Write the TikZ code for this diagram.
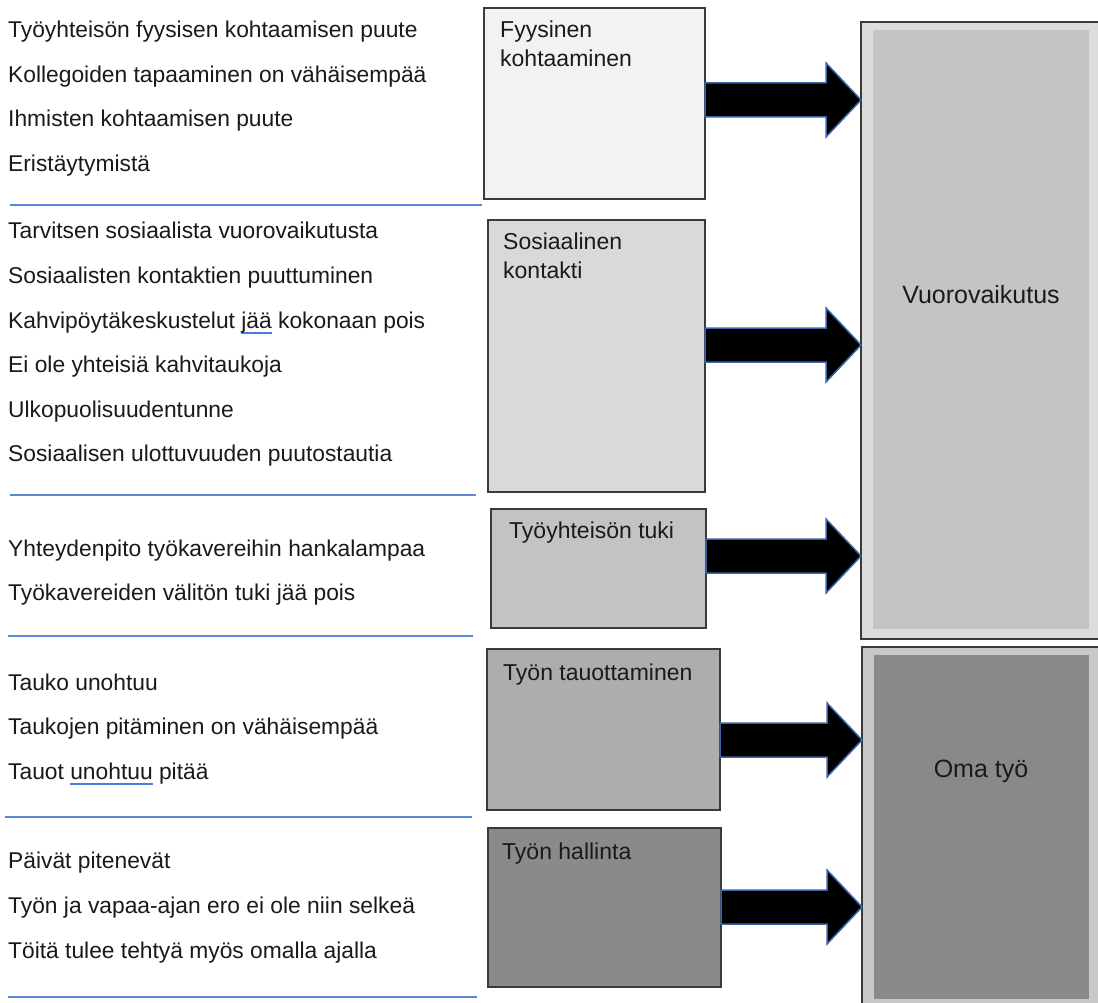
\documentclass[tikz,border=0pt]{standalone}
\usepackage{fontspec}
\setmainfont{Liberation Sans}
\usetikzlibrary{calc}

\definecolor{ink}{HTML}{1A1A1A}
\definecolor{boxline}{HTML}{3A3A3A}
\definecolor{sepblue}{HTML}{5B87D6}
\definecolor{markblue}{HTML}{4A7BE0}
\definecolor{arrowblue}{HTML}{3C64A8}
\definecolor{fillA}{HTML}{F2F2F2}
\definecolor{fillB}{HTML}{D9D9D9}
\definecolor{fillC}{HTML}{C3C3C3}
\definecolor{fillD}{HTML}{ADADAD}
\definecolor{fillE}{HTML}{8A8A8A}
\definecolor{vouter}{HTML}{DCDCDC}
\definecolor{vinner}{HTML}{C4C4C4}
\definecolor{oouter}{HTML}{C8C8C8}
\definecolor{oinner}{HTML}{898989}

% word marked with a blue underline at a fixed depth
\newcommand\spellmark[1]{\setbox0=\hbox{#1}\rlap{\textcolor{markblue}{\rule[-5.5pt]{\wd0}{1.4pt}}}\box0\relax}

% block arrow from the east side of #1 to the west side of #2, centred on the level of #3
\newcommand\blockarrow[3]{%
  \draw[blockarrow] ($(#1.east |- #3)+(0,-17)$) -- ($(#2.west |- #3)+(-35,-17)$)
    -- ($(#2.west |- #3)+(-35,-37)$) -- (#2.west |- #3)
    -- ($(#2.west |- #3)+(-35,37)$) -- ($(#2.west |- #3)+(-35,17)$)
    -- ($(#1.east |- #3)+(0,17)$) -- cycle;}

\begin{document}
\begin{tikzpicture}[x=1pt,y=-1pt,
  box/.style={draw=boxline, line width=1.2pt, outer sep=0pt, inner sep=0pt, anchor=north west},
  panel/.style={outer sep=0pt, inner sep=0pt, anchor=north west},
  item/.style={anchor=base west, inner sep=0pt, text=ink, font=\fontsize{22.8}{27}\selectfont},
  boxlabel/.style={anchor=base west, inner sep=0pt, text=ink, font=\fontsize{23}{27}\selectfont},
  biglabel/.style={inner sep=0pt, text=ink, font=\fontsize{25}{30}\selectfont},
  blockarrow/.style={fill=black, draw=arrowblue, line width=1.5pt, line join=miter},
  separator/.style={draw=sepblue, line width=1.3pt}]

\clip (0,0) rectangle (1098,1003);
\fill[white] (0,0) rectangle (1098,1003);

% ---- left column: statements ----
\node[item] (s11) at (8,38)    {Työyhteisön fyysisen kohtaamisen puute};
\node[item] (s12) at (8,82.5)  {Kollegoiden tapaaminen on vähäisempää};
\node[item] (s13) at (8,127)   {Ihmisten kohtaamisen puute};
\node[item] (s14) at (8,171.5) {Eristäytymistä};
\draw[separator] (10,205) -- (482,205);

\node[item] (s21) at (8,239)   {Tarvitsen sosiaalista vuorovaikutusta};
\node[item] (s22) at (8,283.5) {Sosiaalisten kontaktien puuttuminen};
\node[item] (s23) at (8,328)   {Kahvipöytäkeskustelut \spellmark{jää} kokonaan pois};
\node[item] (s24) at (8,372.5) {Ei ole yhteisiä kahvitaukoja};
\node[item] (s25) at (8,417)   {Ulkopuolisuudentunne};
\node[item] (s26) at (8,461.5) {Sosiaalisen ulottuvuuden puutostautia};
\draw[separator] (10,495) -- (476,495);

\node[item] (s31) at (8,556)   {Yhteydenpito työkavereihin hankalampaa};
\node[item] (s32) at (8,600.5) {Työkavereiden välitön tuki jää pois};
\draw[separator] (8,636) -- (473,636);

\node[item] (s41) at (8,690)   {Tauko unohtuu};
\node[item] (s42) at (8,734.5) {Taukojen pitäminen on vähäisempää};
\node[item] (s43) at (8,779)   {Tauot \spellmark{unohtuu} pitää};
\draw[separator] (5,817) -- (472,817);

\node[item] (s51) at (8,868)   {Päivät pitenevät};
\node[item] (s52) at (8,913)   {Työn ja vapaa-ajan ero ei ole niin selkeä};
\node[item] (s53) at (8,958)   {Töitä tulee tehtyä myös omalla ajalla};
\draw[separator] (8,997) -- (477,997);

% ---- middle column: themes ----
\node[box, fill=fillA, minimum width=221pt, minimum height=191pt] (b1) at (484,8) {};
\node[boxlabel] (b1a) at (500,38) {Fyysinen};
\node[boxlabel] (b1b) at (500,67) {kohtaaminen};

\node[box, fill=fillB, minimum width=217pt, minimum height=272pt] (b2) at (488,220) {};
\node[boxlabel] (b2a) at (503,250) {Sosiaalinen};
\node[boxlabel] (b2b) at (503,279) {kontakti};

\node[box, fill=fillC, minimum width=215pt, minimum height=119pt] (b3) at (491,509) {};
\node[boxlabel] (b3a) at (509,538) {Työyhteisön tuki};

\node[box, fill=fillD, minimum width=233pt, minimum height=161pt] (b4) at (487,649) {};
\node[boxlabel] (b4a) at (503,680) {Työn tauottaminen};

\node[box, fill=fillE, minimum width=233pt, minimum height=159pt] (b5) at (488,828) {};
\node[boxlabel] (b5a) at (502,859) {Työn hallinta};

% ---- right column: main categories ----
\node[box, fill=vouter, minimum width=260pt, minimum height=617pt] (v) at (861,22) {};
\node[panel, fill=vinner, minimum width=216pt, minimum height=599pt] (vi) at (873,30) {};
\node[biglabel] (vt) at (981,295) {Vuorovaikutus};

\node[box, fill=oouter, minimum width=260pt, minimum height=380pt] (o) at (862,647) {};
\node[panel, fill=oinner, minimum width=215pt, minimum height=344pt] (oi) at (874,655) {};
\node[biglabel] (ot) at (981,771) {Oma työ};

% ---- arrows ----
\coordinate (l1) at (0,100);
\coordinate (l2) at (0,345);
\coordinate (l3) at (0,556);
\coordinate (l4) at (0,740);
\coordinate (l5) at (0,907);
\blockarrow{b1}{v}{l1}
\blockarrow{b2}{v}{l2}
\blockarrow{b3}{v}{l3}
\blockarrow{b4}{o}{l4}
\blockarrow{b5}{o}{l5}
\end{tikzpicture}
\end{document}
